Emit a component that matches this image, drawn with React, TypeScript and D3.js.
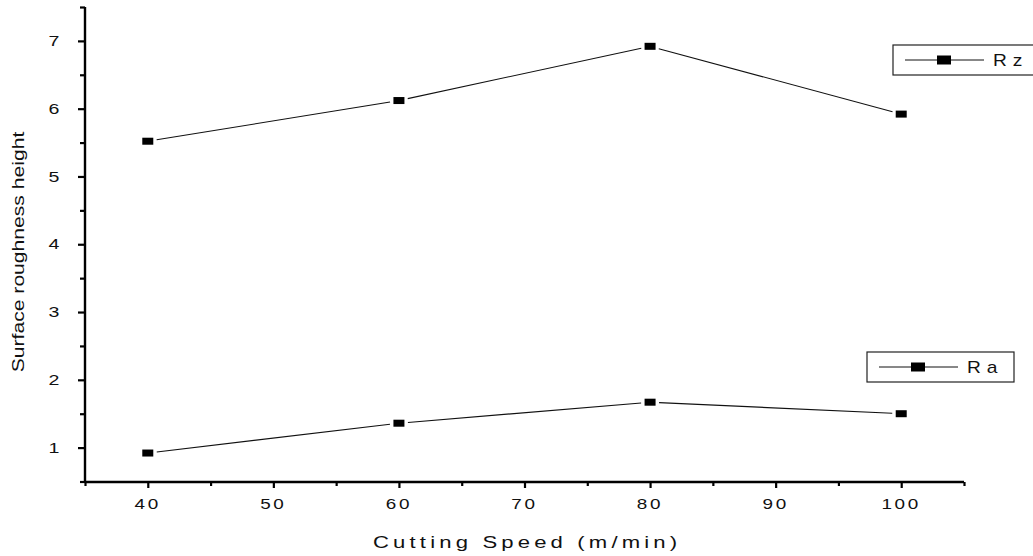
import React, { useEffect, useRef } from 'react';
import * as d3 from 'd3';

const speeds = [40, 60, 80, 100];
const rzValues = [5.52, 6.12, 6.92, 5.92];
const raValues = [0.92, 1.36, 1.67, 1.5];
const xTicks = [40, 50, 60, 70, 80, 90, 100];
const yTicks = [1, 2, 3, 4, 5, 6, 7];

const App: React.FC = () => {
  const svgRef = useRef<SVGSVGElement>(null);

  useEffect(() => {
    if (!svgRef.current) return;
    const svg = d3.select(svgRef.current);
    svg.selectAll('*').remove();

    const font = 'Liberation Sans, Arial, sans-serif';
    const x = d3.scaleLinear().domain([35, 105]).range([85, 964]);
    const y = d3.scaleLinear().domain([0.5, 7.5]).range([481.5, 7]);

    // axes
    const xAxis = svg.append('g').attr('transform', 'translate(0,482)');
    xAxis.call(
      d3.axisBottom(x)
        .tickValues(d3.range(35, 105.1, 5))
        .tickSize(5)
        .tickFormat(() => '')
    );
    xAxis.selectAll('.tick line')
      .attr('stroke-width', 2.2)
      .attr('y2', (d: any) => (d % 10 === 0 ? 6 : 4));
    xAxis.select('.domain').attr('stroke-width', 2.4).attr('d', `M${x(35)},0H${x(105)}`);
    xAxis.selectAll('.xl')
      .data(xTicks)
      .join('text')
      .attr('transform', d => `translate(${x(d)},27) scale(1.35,1)`)
      .attr('text-anchor', 'middle')
      .attr('font-family', font)
      .attr('font-size', 14)
      .attr('letter-spacing', 2)
      .attr('fill', '#111')
      .text(d => d);

    const yAxis = svg.append('g').attr('transform', 'translate(85,0)');
    yAxis.call(
      d3.axisLeft(y)
        .tickValues(d3.range(0.5, 7.51, 0.5))
        .tickSize(5)
        .tickFormat(() => '')
    );
    yAxis.selectAll('.tick line')
      .attr('stroke-width', 2.2)
      .attr('x2', (d: any) => (d % 1 === 0 ? -7 : -5));
    yAxis.select('.domain').attr('stroke-width', 2.4).attr('d', `M0,${y(7.5)}V${y(0.5)}`);
    yAxis.selectAll('.yl')
      .data(yTicks)
      .join('text')
      .attr('transform', d => `translate(-31,${y(d)}) scale(1.4,1)`)
      .attr('dy', '0.36em')
      .attr('text-anchor', 'middle')
      .attr('font-family', font)
      .attr('font-size', 14)
      .attr('fill', '#111')
      .text(d => d);

    // axis titles
    svg.append('text')
      .attr('transform', 'translate(373,548) scale(1.3,1)')
      .attr('font-family', font)
      .attr('font-size', 17)
      .attr('letter-spacing', 3.2)
      .attr('fill', '#111')
      .text('Cutting Speed (m/min)');

    svg.append('text')
      .attr('transform', 'translate(24,252) rotate(-90) scale(1.32,1)')
      .attr('text-anchor', 'middle')
      .attr('font-family', font)
      .attr('font-size', 16)
      .attr('fill', '#111')
      .text('Surface roughness height');

    // series
    const drawSeries = (vals: number[]) => {
      const pts = speeds.map((s, i) => [x(s), y(vals[i])] as [number, number]);
      const g = svg.append('g');
      for (let i = 0; i < pts.length - 1; i++) {
        const [x1, y1] = pts[i];
        const [x2, y2] = pts[i + 1];
        const len = Math.hypot(x2 - x1, y2 - y1);
        const gap = 9;
        const ux = (x2 - x1) / len;
        const uy = (y2 - y1) / len;
        g.append('line')
          .attr('x1', x1 + ux * gap)
          .attr('y1', y1 + uy * gap)
          .attr('x2', x2 - ux * gap)
          .attr('y2', y2 - uy * gap)
          .attr('stroke', '#111')
          .attr('stroke-width', 1.1);
      }
      g.selectAll('rect')
        .data(pts)
        .join('rect')
        .attr('x', d => d[0] - 5.5)
        .attr('y', d => d[1] - 3.5)
        .attr('width', 11)
        .attr('height', 7)
        .attr('fill', '#000');
    };
    drawSeries(rzValues);
    drawSeries(raValues);

    // legends
    const legend = (bx: number, by: number, bw: number, label: string) => {
      const g = svg.append('g');
      g.append('rect')
        .attr('x', bx)
        .attr('y', by)
        .attr('width', bw)
        .attr('height', 30)
        .attr('fill', 'none')
        .attr('stroke', '#222')
        .attr('stroke-width', 1.2);
      g.append('line')
        .attr('x1', bx + 12)
        .attr('x2', bx + 91)
        .attr('y1', by + 15)
        .attr('y2', by + 15)
        .attr('stroke', '#111');
      g.append('rect')
        .attr('x', bx + 44)
        .attr('y', by + 10.5)
        .attr('width', 14)
        .attr('height', 9)
        .attr('fill', '#000');
      g.append('text')
        .attr('transform', `translate(${bx + 100},${by + 21}) scale(1.2,1)`)
        .attr('font-family', font)
        .attr('font-size', 16)
        .attr('letter-spacing', 5)
        .attr('fill', '#111')
        .text(label);
    };
    legend(893, 45, 150, 'Rz');
    legend(867, 352, 147, 'Ra');
  }, []);

  return (
    <svg
      ref={svgRef}
      width={1033}
      height={556}
      style={{ position: 'absolute', left: 0, top: 0, background: '#fff' }}
    />
  );
};

export default App;
